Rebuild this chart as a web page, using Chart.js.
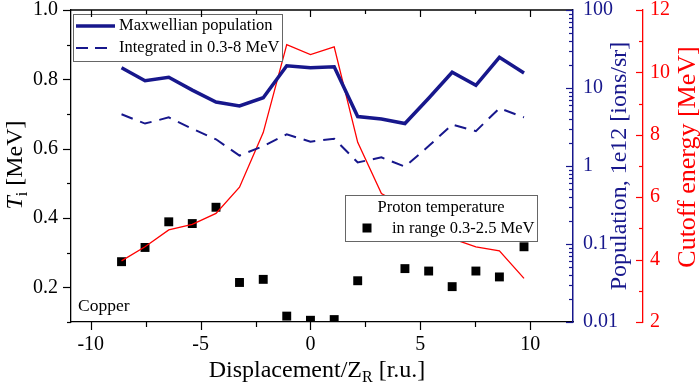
<!DOCTYPE html>
<html>
<head>
<meta charset="utf-8">
<script src="https://cdn.jsdelivr.net/npm/chart.js@4.4.0/dist/chart.umd.min.js"></script>
<style>
  html, body { margin: 0; padding: 0; background: #fff; }
</style>
</head>
<body>
<canvas id="chart" width="700" height="388"></canvas>
<script>
// values
const displacement = [-8.6, -7.53, -6.45, -5.38, -4.3, -3.23, -2.15, -1.08, 0, 1.08, 2.15, 3.23, 4.3, 5.38, 6.45, 7.53, 8.6, 9.72];
const maxwellian = [18.2, 12.4, 13.7, 9.4, 6.6, 5.9, 7.5, 19.3, 18.2, 18.7, 4.3, 4.0, 3.5, 7.4, 15.9, 10.8, 24.7, 15.6];
const integrated = [4.6, 3.5, 4.2, 3.0, 2.2, 1.36, 1.8, 2.55, 2.05, 2.24, 1.11, 1.29, 0.98, 1.8, 3.4, 2.8, 5.5, 4.2];
const cutoff = [3.96, 4.41, 4.95, 5.13, 5.48, 6.32, 8.07, 10.89, 10.57, 10.82, 7.76, 6.12, 5.7, 5.2, 4.67, 4.41, 4.28, 3.4];
// one point sits behind the legend box
const protonT = [0.274, 0.315, 0.389, 0.384, 0.431, 0.214, 0.223, 0.117, 0.105, 0.107, 0.219, null, 0.254, 0.247, 0.202, 0.247, 0.230, 0.317];

const xTicks = [-10, -5, 0, 5, 10];
const xMinor = [-7.5, -2.5, 2.5, 7.5];
const tTicks = [0.2, 0.4, 0.6, 0.8, 1.0];
const tMinor = [0.1, 0.3, 0.5, 0.7, 0.9];
const popTicks = [0.01, 0.1, 1, 10, 100];
const popLabels = ['0.01', '0.1', '1', '10', '100'];
const eTicks = [2, 4, 6, 8, 10, 12];
const eMinor = [3, 5, 7, 9, 11];

const NAVY = '#17178c';
const RED = '#ff0000';
const SERIF = '"Liberation Serif", "Times New Roman", serif';

function pts(ys) {
  return displacement.map((x, i) => ({ x: x, y: ys[i] })).filter(p => p.y !== null);
}

function popMinor() {
  const out = [];
  for (let d = 0.01; d < 100; d *= 10) {
    for (let k = 2; k <= 9; k++) out.push(d * k);
  }
  return out;
}

// draws text made of several styled pieces, optionally rotated
function richText(ctx, parts, x, y, angle, color) {
  ctx.save();
  ctx.translate(x, y);
  ctx.rotate(angle);
  ctx.fillStyle = color;
  ctx.textBaseline = 'alphabetic';
  ctx.textAlign = 'left';
  let total = 0;
  parts.forEach(p => { ctx.font = p.font; total += ctx.measureText(p.t).width; });
  let cx = -total / 2;
  parts.forEach(p => {
    ctx.font = p.font;
    ctx.fillText(p.t, cx, p.dy || 0);
    cx += ctx.measureText(p.t).width;
  });
  ctx.restore();
}

function marks(ctx, values, toPix, fixed, len, horizontal, color) {
  ctx.strokeStyle = color;
  ctx.lineWidth = 1.2;
  values.forEach(v => {
    const p = Math.round(toPix(v)) + 0.5;
    ctx.beginPath();
    if (horizontal) { ctx.moveTo(p, fixed); ctx.lineTo(p, fixed + len); }
    else { ctx.moveTo(fixed, p); ctx.lineTo(fixed + len, p); }
    ctx.stroke();
  });
}

const decor = {
  id: 'decor',
  afterDatasetsDraw(chart) {
    const ctx = chart.ctx;
    ctx.save();
    // legend 1
    ctx.fillStyle = '#fff';
    ctx.fillRect(73, 14, 209, 47);
    ctx.strokeStyle = '#666';
    ctx.lineWidth = 1;
    ctx.strokeRect(73.5, 14.5, 209, 47);
    ctx.strokeStyle = NAVY;
    ctx.lineWidth = 3.5;
    ctx.beginPath(); ctx.moveTo(76, 26); ctx.lineTo(115, 26); ctx.stroke();
    ctx.lineWidth = 2;
    ctx.setLineDash([12, 7]);
    ctx.beginPath(); ctx.moveTo(76, 48); ctx.lineTo(108, 48); ctx.stroke();
    ctx.setLineDash([]);
    ctx.fillStyle = '#000';
    ctx.font = '16.5px ' + SERIF;
    ctx.textBaseline = 'middle';
    ctx.textAlign = 'left';
    ctx.fillText('Maxwellian population', 119, 26);
    ctx.fillText('Integrated in 0.3-8 MeV', 119, 48);

    // legend 2
    ctx.fillStyle = '#fff';
    ctx.fillRect(345, 195, 192, 46);
    ctx.strokeStyle = '#666';
    ctx.lineWidth = 1;
    ctx.strokeRect(345.5, 195.5, 192, 46);
    ctx.fillStyle = '#000';
    ctx.fillRect(362.5, 223.5, 9, 9);
    ctx.textAlign = 'center';
    ctx.fillText('Proton temperature', 441, 208);
    ctx.textAlign = 'left';
    ctx.fillText('in range 0.3-2.5 MeV', 392, 229);

    ctx.font = '17.5px ' + SERIF;
    ctx.fillText('Copper', 78, 306);
    ctx.restore();
  },
  afterDraw(chart) {
    const ctx = chart.ctx;
    const a = chart.chartArea;
    const sx = chart.scales.x, sT = chart.scales.yT, sP = chart.scales.yPop, sE = chart.scales.yE;
    ctx.save();
    // top frame
    ctx.strokeStyle = '#000';
    ctx.lineWidth = 1.3;
    ctx.beginPath(); ctx.moveTo(a.left, a.top); ctx.lineTo(a.right, a.top); ctx.stroke();

    const xp = v => sx.getPixelForValue(v);
    marks(ctx, xTicks, xp, a.bottom, 8, true, '#000');
    marks(ctx, xMinor, xp, a.bottom, 5, true, '#000');
    marks(ctx, xTicks, xp, a.top, 7, true, '#000');
    marks(ctx, xMinor, xp, a.top, 4, true, '#000');

    const tp = v => sT.getPixelForValue(v);
    marks(ctx, tTicks, tp, a.left, -8, false, '#000');
    marks(ctx, tMinor, tp, a.left, -4, false, '#000');

    const pp = v => sP.getPixelForValue(v);
    marks(ctx, popTicks, pp, a.right, -7, false, NAVY);
    marks(ctx, popMinor(), pp, a.right, -4, false, NAVY);

    const ep = v => sE.getPixelForValue(v);
    marks(ctx, eTicks, ep, sE.left, -7, false, RED);
    marks(ctx, eMinor, ep, sE.left, -4, false, RED);

    // axis titles
    const f = (s, style) => (style || '') + ' ' + s + 'px ' + SERIF;
    richText(ctx, [
      { t: 'T', font: f(24, 'italic') },
      { t: 'i', font: f(16), dy: 5 },
      { t: ' [MeV]', font: f(24) }
    ], 22, 165, -Math.PI / 2, '#000');
    richText(ctx, [
      { t: 'Displacement/Z', font: f(24) },
      { t: 'R', font: f(16), dy: 5 },
      { t: ' [r.u.]', font: f(24) }
    ], 317, 377, 0, '#000');
    richText(ctx, [{ t: 'Population, 1e12 [ions/sr]', font: f(24) }], 626, 166, -Math.PI / 2, NAVY);
    richText(ctx, [{ t: 'Cutoff energy [MeV]', font: f(26) }], 695, 157, -Math.PI / 2, RED);
    ctx.restore();
  }
};

function noPad(s) {
  s.paddingTop = 0; s.paddingBottom = 0; s.paddingLeft = 0; s.paddingRight = 0;
}

new Chart(document.getElementById('chart'), {
  type: 'scatter',
  data: {
    datasets: [
      { label: 'Maxwellian population', data: pts(maxwellian), yAxisID: 'yPop', showLine: true,
        borderColor: NAVY, borderWidth: 3.5, pointRadius: 0, order: 0 },
      { label: 'Integrated in 0.3-8 MeV', data: pts(integrated), yAxisID: 'yPop', showLine: true,
        borderColor: NAVY, borderWidth: 2, borderDash: [12, 8], pointRadius: 0, order: 1 },
      { label: 'Cutoff energy', data: pts(cutoff), yAxisID: 'yE', showLine: true,
        borderColor: RED, borderWidth: 1.3, pointRadius: 0, order: 2 },
      { label: 'Proton temperature', data: pts(protonT), yAxisID: 'yT', showLine: false,
        pointStyle: 'rect', pointRadius: 6.3, backgroundColor: '#000', borderColor: '#000', borderWidth: 0, order: 3 }
    ]
  },
  options: {
    responsive: false,
    animation: false,
    layout: { padding: { top: 10, left: 0, right: 0, bottom: 0 } },
    plugins: { legend: { display: false }, tooltip: { enabled: false } },
    scales: {
      x: {
        type: 'linear', position: 'bottom', min: -10.9, max: 11.95,
        afterBuildTicks: s => { s.ticks = xTicks.map(v => ({ value: v })); },
        ticks: { font: { family: SERIF, size: 20 }, color: '#000', padding: 11, maxRotation: 0, callback: v => String(v) },
        grid: { display: false, drawTicks: false },
        border: { display: true, color: '#000', width: 1.3 },
        afterFit: s => { s.height = 66; noPad(s); }
      },
      yT: {
        type: 'linear', position: 'left', min: 0.1, max: 1.0,
        afterBuildTicks: s => { s.ticks = tTicks.map(v => ({ value: v })); },
        ticks: { font: { family: SERIF, size: 20 }, color: '#000', padding: 13, callback: v => v.toFixed(1) },
        grid: { display: false, drawTicks: false },
        border: { display: true, color: '#000', width: 1.3 },
        afterFit: s => { s.width = 71; noPad(s); }
      },
      yPop: {
        type: 'logarithmic', position: 'right', weight: 0, min: 0.01, max: 100,
        afterBuildTicks: s => { s.ticks = popTicks.map(v => ({ value: v })); },
        ticks: { font: { family: SERIF, size: 20 }, color: NAVY, padding: 10, callback: (v, i) => popLabels[i] },
        grid: { display: false, drawTicks: false },
        border: { display: true, color: NAVY, width: 1.5 },
        afterFit: s => { s.width = 70; noPad(s); }
      },
      yE: {
        type: 'linear', position: 'right', weight: 1, min: 2, max: 12,
        afterBuildTicks: s => { s.ticks = eTicks.map(v => ({ value: v })); },
        ticks: { font: { family: SERIF, size: 20 }, color: RED, padding: 7, callback: v => String(v) },
        grid: { display: false, drawTicks: false },
        border: { display: true, color: RED, width: 1.3 },
        afterFit: s => { s.width = 57; noPad(s); }
      }
    }
  },
  plugins: [decor]
});
</script>
</body>
</html>
